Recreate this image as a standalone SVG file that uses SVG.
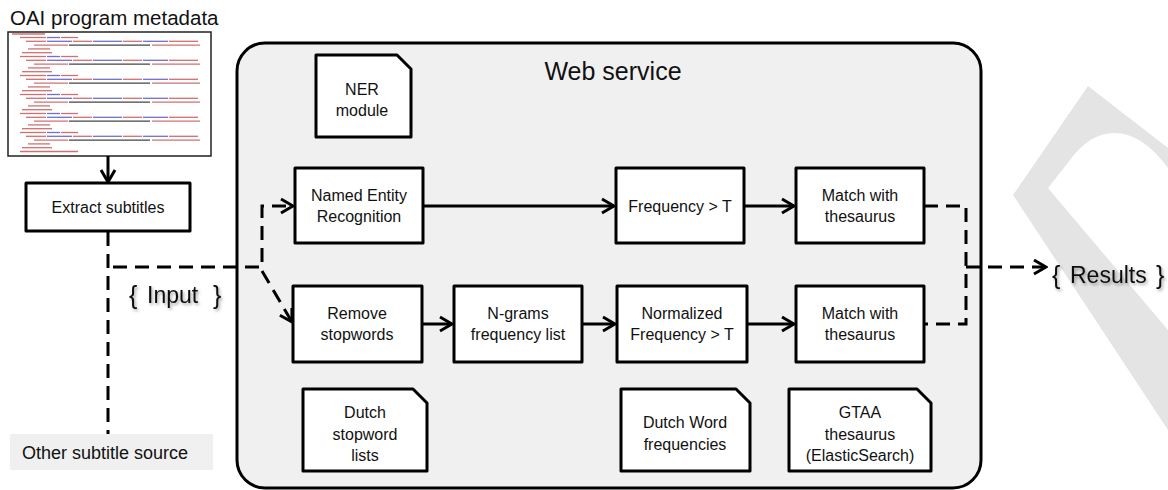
<svg xmlns="http://www.w3.org/2000/svg" xmlns:xlink="http://www.w3.org/1999/xlink" width="1168" height="490" viewBox="0 0 1168 490">
<style>
  text { font-family: "Liberation Sans", Arial, sans-serif; fill: #111; }
  .lbl { font-size: 16px; text-anchor: middle; }
  .box { fill: #fff; stroke: #000; stroke-width: 3; stroke-linejoin: round; }
  .line { fill: none; stroke: #000; stroke-width: 3; }
  .dash { fill: none; stroke: #000; stroke-width: 3; stroke-dasharray: 14 8; }
  .big { font-size: 23px; }
  .brace { font-size: 25px; }
  .xr { stroke: #d07070; stroke-width: 1.3; }
  .xb { stroke: #7070d0; stroke-width: 1.3; }
  .xk { stroke: #444; stroke-width: 1.3; }
</style>
<defs>
  <marker id="arr" viewBox="0 0 16 18" refX="14" refY="9" markerWidth="16" markerHeight="18" markerUnits="userSpaceOnUse" orient="auto">
    <path d="M2,2 L14,9 L2,16" fill="none" stroke="#000" stroke-width="3" stroke-linejoin="miter"/>
  </marker>
  <filter id="sh" x="-20%" y="-30%" width="140%" height="160%">
    <feDropShadow dx="1.5" dy="2" stdDeviation="1.5" flood-color="#000" flood-opacity="0.35"/>
  </filter>
  <g id="xblk">
    <line class="xr" x1="20" y1="0" x2="46" y2="0"/><line class="xb" x1="47" y1="0" x2="60" y2="0"/><line class="xr" x1="61" y1="0" x2="78" y2="0"/>
    <line class="xr" x1="26" y1="3.8" x2="46" y2="3.8"/><line class="xb" x1="47" y1="3.8" x2="72" y2="3.8"/><line class="xr" x1="73" y1="3.8" x2="92" y2="3.8"/><line class="xb" x1="93" y1="3.8" x2="122" y2="3.8"/><line class="xr" x1="123" y1="3.8" x2="142" y2="3.8"/><line class="xb" x1="143" y1="3.8" x2="168" y2="3.8"/><line class="xr" x1="169" y1="3.8" x2="198" y2="3.8"/>
    <line class="xr" x1="34" y1="7.6" x2="68" y2="7.6"/><line class="xk" x1="69" y1="7.6" x2="150" y2="7.6"/><line class="xr" x1="152" y1="7.6" x2="200" y2="7.6"/>
    <line class="xr" x1="28" y1="11.4" x2="50" y2="11.4"/>
    <line class="xr" x1="22" y1="15.2" x2="52" y2="15.2"/>
  </g>
</defs>

<rect width="1168" height="490" fill="#fff"/>

<!-- watermark -->
<path d="M1088,86 L1168,148 L1168,168 C1140,128 1100,118 1070,160 L1048,188 L1168,330 L1168,430 L1013,195 Z" fill="#e4e4e4"/>

<!-- Web service container -->
<g id="webservice">
  <rect x="237" y="43" width="744" height="445" rx="28" ry="28" fill="#f0f0f0" stroke="#000" stroke-width="3"/>
  <text x="613" y="80" style="font-size:25px;text-anchor:middle">Web service</text>
</g>

<!-- OAI metadata -->
<g id="oai">
  <text x="10" y="25" style="font-size:20.5px">OAI program metadata</text>
  <rect x="8" y="32" width="203" height="124" fill="#fff" stroke="#222" stroke-width="1.5"/>
  <line class="xr" x1="12" y1="34" x2="45" y2="34"/>
  <use xlink:href="#xblk" y="37.5"/>
  <use xlink:href="#xblk" y="56.5"/>
  <use xlink:href="#xblk" y="75.5"/>
  <use xlink:href="#xblk" y="94.5"/>
  <use xlink:href="#xblk" y="113.5"/>
  <use xlink:href="#xblk" y="132.5"/>
  <line class="xr" x1="20" y1="151.5" x2="78" y2="151.5"/>
</g>

<!-- connectors -->
<g id="connectors">
  <line class="line" x1="108" y1="156" x2="108" y2="182" marker-end="url(#arr)"/>
  <path class="dash" d="M108,232 V474"/>
  <path class="dash" d="M113,267 H262 V206 H293" marker-end="url(#arr)"/>
  <path class="dash" d="M262,271 L292,322" marker-end="url(#arr)"/>
  <line class="line" x1="423" y1="206" x2="614" y2="206" marker-end="url(#arr)"/>
  <line class="line" x1="744" y1="206" x2="794" y2="206" marker-end="url(#arr)"/>
  <line class="line" x1="422" y1="324" x2="452" y2="324" marker-end="url(#arr)"/>
  <line class="line" x1="582" y1="324" x2="615" y2="324" marker-end="url(#arr)"/>
  <line class="line" x1="747" y1="324" x2="794" y2="324" marker-end="url(#arr)"/>
  <path class="dash" d="M924,206 H966 V324 H924"/>
  <path class="dash" d="M966,267 H1046" marker-end="url(#arr)"/>
</g>

<g id="extract">
  <rect class="box" x="26" y="183" width="164" height="48"/>
  <text class="lbl" x="108" y="213">Extract subtitles</text>
</g>

<g id="other">
  <rect x="10" y="434" width="203" height="36" fill="#f0f0f0"/>
  <text x="22" y="459" style="font-size:18px">Other subtitle source</text>
</g>

<g id="input" filter="url(#sh)">
  <text class="brace" x="129" y="304">{</text>
  <text class="big" x="147" y="303">Input</text>
  <text class="brace" x="213" y="304">}</text>
</g>

<g id="results" filter="url(#sh)">
  <text class="brace" x="1052" y="284">{</text>
  <text class="big" x="1070" y="283">Results</text>
  <text class="brace" x="1156" y="284">}</text>
</g>

<g id="ner-module">
  <path class="box" d="M316,55 H397 L411,69 V137 H316 Z"/>
  <text class="lbl" x="362" y="95">NER</text>
  <text class="lbl" x="362" y="116">module</text>
</g>

<g id="ner">
  <rect class="box" x="295" y="168" width="128" height="75"/>
  <text class="lbl" x="359" y="201">Named Entity</text>
  <text class="lbl" x="359" y="222">Recognition</text>
</g>

<g id="freq">
  <rect class="box" x="616" y="168" width="128" height="75"/>
  <text class="lbl" x="680" y="212">Frequency &gt; T</text>
</g>

<g id="match1">
  <rect class="box" x="796" y="168" width="128" height="75"/>
  <text class="lbl" x="860" y="201">Match with</text>
  <text class="lbl" x="860" y="222">thesaurus</text>
</g>

<g id="remove">
  <rect class="box" x="293" y="286" width="129" height="76"/>
  <text class="lbl" x="357" y="319">Remove</text>
  <text class="lbl" x="357" y="340">stopwords</text>
</g>

<g id="ngrams">
  <rect class="box" x="454" y="286" width="128" height="76"/>
  <text class="lbl" x="518" y="319">N-grams</text>
  <text class="lbl" x="518" y="340">frequency list</text>
</g>

<g id="normfreq">
  <rect class="box" x="617" y="286" width="130" height="76"/>
  <text class="lbl" x="682" y="319">Normalized</text>
  <text class="lbl" x="682" y="340">Frequency &gt; T</text>
</g>

<g id="match2">
  <rect class="box" x="796" y="286" width="128" height="76"/>
  <text class="lbl" x="860" y="319">Match with</text>
  <text class="lbl" x="860" y="340">thesaurus</text>
</g>

<g id="stopword-lists">
  <path class="box" d="M303,389 H413 L427,403 V471 H303 Z"/>
  <text class="lbl" x="365" y="418">Dutch</text>
  <text class="lbl" x="365" y="440">stopword</text>
  <text class="lbl" x="365" y="461">lists</text>
</g>

<g id="word-freq">
  <path class="box" d="M621,389 H736 L750,403 V471 H621 Z"/>
  <text class="lbl" x="685" y="428">Dutch Word</text>
  <text class="lbl" x="685" y="450">frequencies</text>
</g>

<g id="gtaa">
  <path class="box" d="M789,389 H917 L931,403 V471 H789 Z"/>
  <text class="lbl" x="860" y="418">GTAA</text>
  <text class="lbl" x="860" y="440">thesaurus</text>
  <text class="lbl" x="860" y="461">(ElasticSearch)</text>
</g>
</svg>
